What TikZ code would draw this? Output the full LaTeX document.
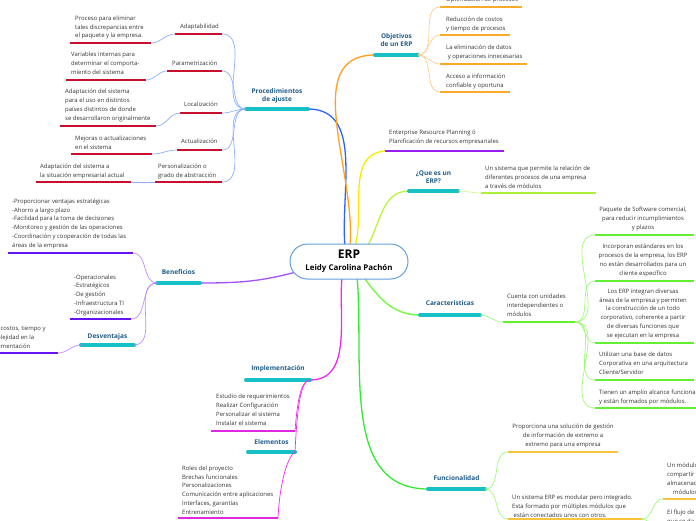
\documentclass[tikz,border=0pt]{standalone}
\usepackage{fontspec}
\setmainfont{Open Sans}
\usetikzlibrary{backgrounds}
\definecolor{tblue}{RGB}{31,92,135}
\definecolor{barc}{RGB}{22,192,196}
\definecolor{erpb}{RGB}{100,160,215}
\definecolor{blueM}{RGB}{45,100,255}
\definecolor{blueL}{RGB}{140,175,255}
\definecolor{crim}{RGB}{200,16,46}
\definecolor{oraM}{RGB}{255,160,30}
\definecolor{oraL}{RGB}{255,205,140}
\definecolor{oraU}{RGB}{248,170,40}
\definecolor{yelM}{RGB}{250,236,0}
\definecolor{purU}{RGB}{150,30,240}
\definecolor{limeM}{RGB}{185,245,60}
\definecolor{limeL}{RGB}{205,250,140}
\definecolor{limeU}{RGB}{175,240,60}
\definecolor{grnM}{RGB}{110,250,60}
\definecolor{grnL}{RGB}{160,250,120}
\definecolor{grnU}{RGB}{100,240,50}
\definecolor{fgrn}{RGB}{50,235,50}
\definecolor{fyel}{RGB}{250,195,60}
\definecolor{magM}{RGB}{240,40,240}
\definecolor{magU}{RGB}{225,40,225}
\definecolor{purM}{RGB}{165,80,255}
\definecolor{purL}{RGB}{190,140,255}
\definecolor{purD}{RGB}{100,20,240}
\definecolor{txtc}{RGB}{50,50,50}
\begin{document}
\begin{tikzpicture}[x=1pt,y=-1pt,
  txt/.style={inner sep=0pt, font=\fontsize{5.95}{8.7}\selectfont, text=txtc, align=left, anchor=base west},
  txtc/.style={txt, align=center, anchor=base},
  ttl/.style={inner sep=0pt, font=\bfseries\fontsize{6.5}{8}\selectfont, text=tblue, align=center, anchor=base},
  bar/.style={line width=4pt, line cap=round, barc},
  mainl/.style={line width=1.3pt},
  subl/.style={line width=0.7pt},
  ul/.style={line width=1.8pt}
]
\useasboundingbox (0,0) rectangle (696,520);

% ---------- centre ----------
\node[draw=erpb, line width=1pt, fill=white, rounded corners=17.5pt,
      minimum width=118pt, minimum height=35pt, inner sep=0pt,
      align=center, font=\bfseries] (erp) at (349,261.5)
  {{\fontsize{12}{12}\selectfont ERP}\\[0pt]{\fontsize{7.9}{9}\selectfont Leidy Carolina Pachón}};
\coordinate (eBlue) at (345,247);
\coordinate (eOra) at (350,247);
\coordinate (eYel) at (355,247);
\coordinate (eLime) at (367,247);
\coordinate (eMag) at (342,276);
\coordinate (eFun) at (357,276);
\coordinate (eCar) at (363,276);
\coordinate (ePur) at (296,272);

% ---------- Procedimientos de ajuste ----------
\coordinate (paL) at (246,109); \coordinate (paR) at (308,109);
\draw[bar] (paL) -- (paR);
\node[ttl] (pa) at (277,101.3) {Procedimientos\\de ajuste};

\node[txt] (adap) at (180,28) {Adaptabilidad};
\coordinate (adL) at (175,34); \coordinate (adR) at (222,34);
\node[txt] (param) at (172,65) {Parametrización};
\coordinate (pmL) at (167,71); \coordinate (pmR) at (222,71);
\node[txt] (loc) at (184,106) {Localización};
\coordinate (loL) at (180,113); \coordinate (loR) at (222,113);
\node[txt] (act) at (181,143) {Actualización};
\coordinate (acL) at (177,150); \coordinate (acR) at (222,150);
\node[txt] (pers) at (158,177) {Personalización o\\grado de abstracción};
\coordinate (peL) at (155,182); \coordinate (peR) at (222,182);

\node[txt] (t1) at (75,37.7) {Proceso para eliminar\\tales discrepancias entre\\el paquete y la empresa.};
\coordinate (t1L) at (70,43); \coordinate (t1R) at (151,43);
\node[txt] (t2) at (71,74) {Variables internas para\\determinar el comporta-\\miento del sistema};
\coordinate (t2L) at (66,80); \coordinate (t2R) at (146,80);
\node[txt] (t3) at (65,120) {Adaptación del sistema\\para el uso en distintos\\países distintos de donde\\se desarrollaron originalmente};
\coordinate (t3L) at (60,126); \coordinate (t3R) at (156,126);
\node[txt] (t4) at (75,149) {Mejoras o actualizaciones\\en el sistema};
\coordinate (t4L) at (71,154); \coordinate (t4R) at (152,154);
\node[txt] (t5) at (40,177) {Adaptación del sistema a\\la situación empresarial actual};
\coordinate (t5L) at (36,182); \coordinate (t5R) at (131,182);

\foreach \a/\b in {adL/adR,pmL/pmR,loL/loR,acL/acR,peL/peR,t1L/t1R,t2L/t2R,t3L/t3R,t4L/t4R,t5L/t5R}
  \draw[ul, crim] (\a) -- (\b);
\foreach \c in {adR,pmR,loR,acR,peR}
  \draw[subl, blueL] (paL) to[out=180,in=0] (\c);
\draw[subl, blueL] (t1R) to[out=0,in=180] (adL);
\draw[subl, blueL] (t2R) to[out=0,in=180] (pmL);
\draw[subl, blueL] (t3R) to[out=0,in=180] (loL);
\draw[subl, blueL] (t4R) to[out=0,in=180] (acL);
\draw[subl, blueL] (t5R) -- (peL);

% ---------- Beneficios ----------
\coordinate (beL) at (157,283); \coordinate (beR) at (200,283);
\draw[bar] (beL) -- (beR);
\node[ttl] (ben) at (178.5,274.5) {Beneficios};
\node[txt] (b1) at (12,247) {-Proporcionar ventajas estratégicas\\-Ahorro a largo plazo\\-Facilidad para la toma de decisiones\\-Monitoreo y gestión de las operaciones\\-Coordinación y cooperación de todas las\\áreas de la empresa};
\coordinate (b1L) at (8,253); \coordinate (b1R) at (133,253);
\node[txt] (b2) at (74,314) {-Operacionales\\-Estratégicos\\-De gestión\\-Infraestructura TI\\-Organizacionales};
\coordinate (b2L) at (70,319); \coordinate (b2R) at (131,319);
\coordinate (deL) at (81,345); \coordinate (deR) at (134,345);
\draw[bar] (deL) -- (deR);
\node[ttl] (des) at (107.5,338.5) {Desventajas};
\node[txt] (d1) at (-15,348) {Altos costos, tiempo y\\complejidad en la\\implementación};
\coordinate (d1L) at (-20,353); \coordinate (d1R) at (58,353);
\foreach \a/\b in {b1L/b1R,b2L/b2R,d1L/d1R}
  \draw[ul, purD] (\a) -- (\b);
\draw[subl, purL] (beL) to[out=180,in=0] (b1R);
\draw[subl, purL] (beL) to[out=180,in=0] (b2R);
\draw[subl, purL] (beL) to[out=180,in=0] (deR);
\draw[subl, purL] (d1R) to[out=0,in=180] (deL);

% ---------- Implementación ----------
\coordinate (imL) at (246,380); \coordinate (imR) at (310,380);
\draw[bar] (imL) -- (imR);
\node[ttl] (imp) at (278,370.3) {Implementación};
\node[txt] (i1) at (216,425) {Estudio de requerimientos\\Realizar Configuración\\Personalizar el sistema\\Instalar el sistema};
\coordinate (i1L) at (211,431); \coordinate (i1R) at (295,431);
\coordinate (elL) at (248,452); \coordinate (elR) at (295,452);
\draw[bar] (elL) -- (elR);
\node[ttl] (ele) at (271.5,444.3) {Elementos};
\node[txt] (e1) at (182,514) {Roles del proyecto\\Brechas funcionales\\Personalizaciones\\Comunicación entre aplicaciones\\Interfaces, garantías\\Entrenamiento};
\coordinate (e1L) at (178,518); \coordinate (e1R) at (278,518);
\draw[ul, magU] (i1L) -- (i1R);
\draw[ul, magU] (e1L) -- (e1R);
\draw[subl, magM] (imR) .. controls +(-10,0) and +(2,-25) .. (i1R);
\draw[subl, magM] (imR) .. controls +(-10,0) and +(2,-40) .. (elR);
\draw[subl, magM] (elR) .. controls +(-6,3) and +(2,-40) .. (e1R);

% ---------- Objetivos ----------
\coordinate (obL) at (375,55); \coordinate (obR) at (418,55);
\draw[bar] (obL) -- (obR);
\node[ttl] (obj) at (396.5,46.3) {Objetivos\\de un ERP};
\node[txt] (o0) at (446,1.5) {Optimización de procesos};
\coordinate (o0L) at (440,7); \coordinate (o0R) at (522,7);
\node[txt] (o1) at (446,30) {Reducción de costos\\y tiempo de procesos};
\coordinate (o1L) at (440,35); \coordinate (o1R) at (510,35);
\node[txt] (o2) at (446,58) {La eliminación de datos\\\ y operaciones innecesarias};
\coordinate (o2L) at (440,64); \coordinate (o2R) at (527,64);
\node[txt] (o3) at (446,87) {Acceso a información\\confiable y oportuna};
\coordinate (o3L) at (440,92); \coordinate (o3R) at (510,92);
\foreach \a/\b in {o0L/o0R,o1L/o1R,o2L/o2R,o3L/o3R}
  \draw[ul, oraU] (\a) -- (\b);
\foreach \c in {o0L,o1L,o2L,o3L}
  \draw[subl, oraL] (obR) to[out=0,in=180] (\c);

% ---------- Enterprise ----------
\node[txt] (ent) at (389,143) {Enterprise Resource Planning ó\\Planificación de recursos empresariales};
\coordinate (enL) at (385,151); \coordinate (enR) at (504,151);
\draw[ul, purU] (enL) -- (enR);

% ---------- Que es ----------
\coordinate (qeL) at (409,191); \coordinate (qeR) at (458,191);
\draw[bar] (qeL) -- (qeR);
\node[ttl] (que) at (433.5,183.3) {¿Que es un\\ERP?};
\node[txt] (q1) at (485,188) {Un sistema que permite la relación de\\diferentes procesos de una empresa\\a través de módulos};
\coordinate (q1L) at (481,193); \coordinate (q1R) at (596,193);
\draw[ul, limeU] (q1L) -- (q1R);
\draw[subl, limeL] (qeR) to[out=0,in=180] (q1L);

% ---------- Caracteristicas ----------
\coordinate (caL) at (420,315); \coordinate (caR) at (480,315);
\draw[bar] (caL) -- (caR);
\node[ttl] (car) at (450,305.3) {Caracteristicas};
\node[txt] (c0) at (507,316) {Cuenta con unidades\\interdependientes o\\módulos};
\coordinate (c0L) at (503,322); \coordinate (c0R) at (575,322);
\node[txtc] (c1) at (643,229) {Paquete de Software comercial,\\para reducir incumplimientos\\y plazos};
\coordinate (c1L) at (595,235); \coordinate (c1R) at (694,235);
\node[txtc] (c2) at (643,275) {Incorporan estándares en los\\procesos de la empresa, los ERP\\no están desarrollados para un\\cliente específico};
\coordinate (c2L) at (595,281); \coordinate (c2R) at (694,281);
\node[txtc] (c3) at (643,337) {Los ERP integran diversas\\áreas de la empresa y permiten\\la construcción de un todo\\corporativo, coherente a partir\\de diversas funciones que\\se ejecutan en la empresa};
\coordinate (c3L) at (595,343); \coordinate (c3R) at (694,343);
\node[txt] (c4) at (599,374) {Utilizan una base de datos\\Corporativa en una arquitectura\\Cliente/Servidor};
\coordinate (c4L) at (595,380); \coordinate (c4R) at (694,380);
\node[txt] (c5) at (599,403) {Tienen un amplio alcance funcional\\y están formados por módulos.};
\coordinate (c5L) at (595,408); \coordinate (c5R) at (700,408);
\foreach \a/\b in {c0L/c0R,c1L/c1R,c2L/c2R,c3L/c3R,c4L/c4R,c5L/c5R}
  \draw[ul, grnU] (\a) -- (\b);
\draw[subl, grnL] (caR) to[out=0,in=180] (c0L);
\foreach \c in {c1L,c2L,c3L,c4L,c5L}
  \draw[subl, grnL] (c0R) to[out=0,in=180] (\c);

% ---------- Funcionalidad ----------
\coordinate (fuL) at (428,489); \coordinate (fuR) at (485,489);
\draw[bar] (fuL) -- (fuR);
\node[ttl] (fun) at (456.5,480.3) {Funcionalidad};
\node[txtc] (f1) at (563,446) {Proporciona una solución de gestión\\de información de extremo a\\extremo para una empresa};
\coordinate (f1L) at (508,452); \coordinate (f1R) at (618,452);
\node[txt] (f2) at (512,517) {Un sistema ERP es modular pero integrado.\\Esta formado por múltiples módulos que\\\hspace{1.5pt}están conectados unos con otros.};
\coordinate (f2L) at (508,519); \coordinate (f2R) at (642,519);
\node[txt] (f3) at (667,494) {Un módulo puede\\compartir información\\almacenada con otros\\\hspace{6pt}módulos};
\coordinate (f3L) at (663,499); \coordinate (f3R) at (705,499);
\node[txt] (f4) at (667,523) {El flujo de información\\que se da entre módulos};
\coordinate (f4L) at (663,545);
\foreach \a/\b in {f1L/f1R,f2L/f2R,f3L/f3R}
  \draw[ul, fyel] (\a) -- (\b);
\draw[subl, grnL] (fuR) to[out=0,in=180] (f1L);
\draw[subl, grnL] (fuR) to[out=0,in=180] (f2L);
\draw[subl, grnL] (f2R) to[out=0,in=180] (f3L);
\draw[subl, grnL] (f2R) to[out=0,in=180] (f4L);

% ---------- main branches ----------
\begin{scope}[on background layer]
\draw[mainl, blueM] (paR) to[out=0,in=95] (eBlue);
\draw[mainl, oraM] (obL) to[out=180,in=85] (eOra);
\draw[mainl, yelM] (enL) to[out=185,in=75] (eYel);
\draw[mainl, limeM] (qeL) to[out=180,in=60] (eLime);
\draw[mainl, grnM] (caL) to[out=180,in=-55] (eCar);
\draw[mainl, fgrn] (fuL) to[out=180,in=-85] (eFun);
\draw[mainl, magM] (imR) to[out=0,in=-95] (eMag);
\draw[mainl, purM] (beR) to[out=0,in=195] (ePur);
\end{scope}
\end{tikzpicture}
\end{document}
